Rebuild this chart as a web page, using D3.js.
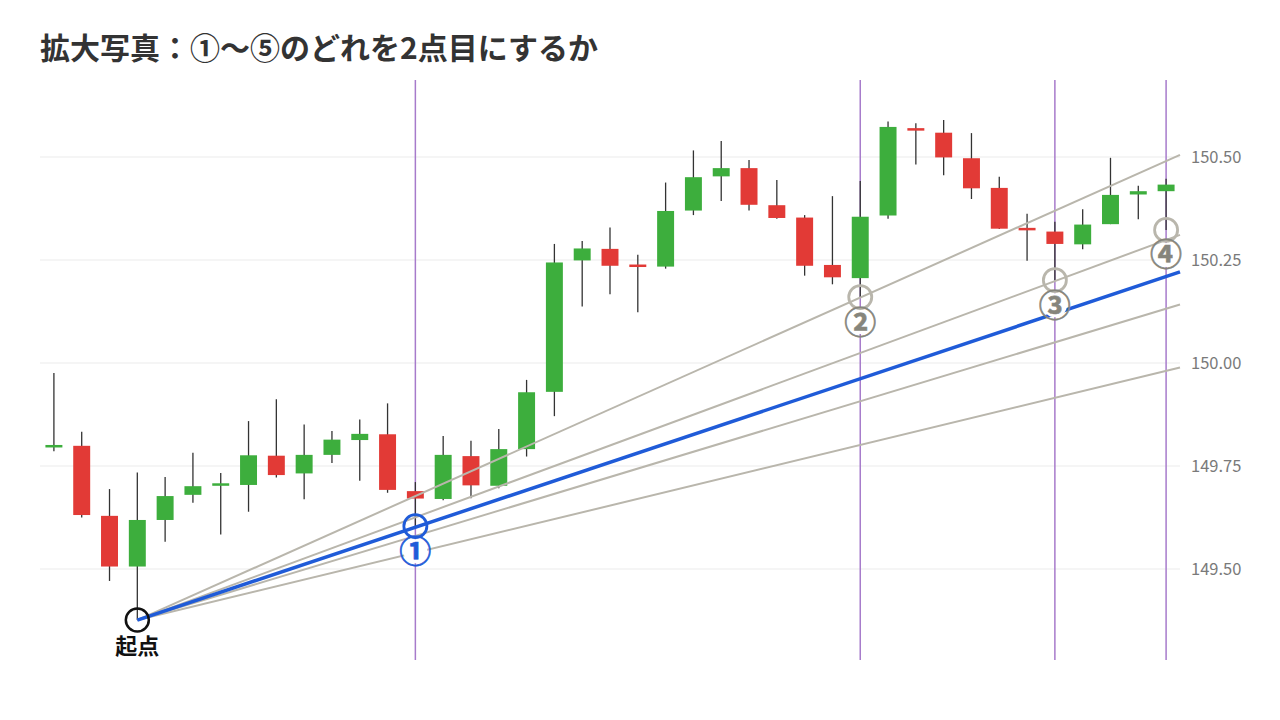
<!DOCTYPE html>
<html>
<head>
<meta charset="utf-8">
<script src="https://cdn.jsdelivr.net/npm/d3@7"></script>
<style>
  html, body { margin: 0; padding: 0; background: #ffffff; }
  svg { display: block; }
</style>
</head>
<body>
<svg id="chart" width="1280" height="720"></svg>
<script>
// ---- data ----
const titleText = "拡大写真：①〜⑤のどれを2点目にするか";
const opens  = [149.795,149.799,149.629,149.506,149.619,149.680,149.703,149.704,149.775,149.732,149.777,149.813,149.827,149.689,149.670,149.774,149.702,149.791,149.930,150.249,150.277,150.236,150.234,150.370,150.453,150.473,150.383,150.353,150.238,150.206,150.358,150.567,150.559,150.497,150.425,150.325,150.319,150.288,150.337,150.409,150.417];
const highs  = [149.976,149.833,149.694,149.734,149.723,149.782,149.733,149.859,149.912,149.851,149.835,149.863,149.902,149.711,149.823,149.811,149.840,149.959,150.289,150.296,150.329,150.263,150.438,150.516,150.539,150.493,150.444,150.359,150.405,150.442,150.586,150.582,150.590,150.558,150.452,150.362,150.343,150.373,150.498,150.430,150.447];
const lows   = [149.786,149.625,149.471,149.376,149.566,149.661,149.584,149.639,149.722,149.669,149.757,149.714,149.685,149.604,149.667,149.672,149.696,149.773,149.871,150.137,150.167,150.123,150.229,150.359,150.393,150.370,150.350,150.212,150.191,150.160,150.350,150.482,150.456,150.398,150.325,150.248,150.201,150.276,150.337,150.349,150.323];
const closes = [149.798,149.631,149.506,149.619,149.677,149.701,149.705,149.776,149.728,149.777,149.814,149.828,149.692,149.671,149.777,149.703,149.791,149.929,150.244,150.278,150.236,150.234,150.369,150.451,150.473,150.384,150.352,150.236,150.208,150.355,150.573,150.563,150.499,150.424,150.326,150.320,150.289,150.336,150.408,150.417,150.433];
const yTicks = [149.50, 149.75, 150.00, 150.25, 150.50];
const verticalIdx = [13, 29, 36, 40];
const originIdx = 3;
const originLabel = "起点";
const fanEndPrices = [150.505, 150.311, 150.142, 149.989];   // gray candidate lines at right edge
const blueEndPrice = 150.221;                                 // chosen (blue) line at right edge
const markerLabels = ["①", "②", "③", "④"];
const markerIdx    = [13, 29, 36, 40];
const markerPrice  = [149.604, 150.160, 150.201, 150.323];

// ---- layout ----
const svg = d3.select("#chart");
const plotL = 40, plotR = 1180, plotT = 80, plotB = 660;
const n = opens.length;
const x = d3.scaleLinear().domain([-0.5, n - 0.5]).range([plotL, plotR]);
const y = d3.scaleLinear().domain([149.5, 150.5]).range([569, 157]);
const step = x(1) - x(0);
const bodyW = step * 0.61;
const green = "#3dae3d", red = "#e23a36";
const fontJP = "'Noto Sans CJK JP', 'Noto Sans', sans-serif";

// title
svg.append("text")
  .attr("x", 40).attr("y", 59)
  .attr("font-family", fontJP).attr("font-weight", 700)
  .attr("font-size", 30).attr("fill", "#333333")
  .text(titleText);

// grid
svg.append("g").selectAll("line").data(yTicks).join("line")
  .attr("x1", plotL).attr("x2", plotR)
  .attr("y1", d => y(d)).attr("y2", d => y(d))
  .attr("stroke", "#ebebeb").attr("stroke-width", 1);

// y axis labels
const axis = svg.append("g").attr("transform", `translate(${plotR},0)`)
  .call(d3.axisRight(y).tickValues(yTicks).tickSize(0).tickPadding(11).tickFormat(d3.format(".2f")));
axis.select(".domain").remove();
axis.selectAll("text").attr("font-family", fontJP).attr("font-size", 16.5).attr("fill", "#7a7a7a");

// vertical purple lines
svg.append("g").selectAll("line").data(verticalIdx).join("line")
  .attr("x1", d => x(d)).attr("x2", d => x(d))
  .attr("y1", plotT).attr("y2", plotB)
  .attr("stroke", "#a77bcb").attr("stroke-width", 1.5);

// candles
const idx = d3.range(n);
const cg = svg.append("g");
cg.selectAll("line.wick").data(idx).join("line").attr("class", "wick")
  .attr("x1", i => x(i)).attr("x2", i => x(i))
  .attr("y1", i => y(highs[i])).attr("y2", i => y(lows[i]))
  .attr("stroke", "#333333").attr("stroke-width", 1.3);
cg.selectAll("rect").data(idx).join("rect")
  .attr("x", i => x(i) - bodyW / 2)
  .attr("width", bodyW)
  .attr("y", i => Math.min(y(opens[i]), y(closes[i])) - (Math.abs(y(opens[i]) - y(closes[i])) < 2.5 ? 1.25 : 0))
  .attr("height", i => Math.max(2.5, Math.abs(y(opens[i]) - y(closes[i]))))
  .attr("fill", i => closes[i] >= opens[i] ? green : red);

// fan lines
const ox = x(originIdx), oy = y(lows[originIdx]);
svg.append("g").selectAll("line").data(fanEndPrices).join("line")
  .attr("x1", ox).attr("y1", oy)
  .attr("x2", x(n - 0.5)).attr("y2", d => y(d))
  .attr("stroke", "#b9b6ac").attr("stroke-width", 2);
svg.append("line")
  .attr("x1", ox).attr("y1", oy)
  .attr("x2", x(n - 0.5)).attr("y2", y(blueEndPrice))
  .attr("stroke", "#1f5bd8").attr("stroke-width", 3.5);

// origin marker
svg.append("circle").attr("cx", ox).attr("cy", oy).attr("r", 11.5)
  .attr("fill", "none").attr("stroke", "#111111").attr("stroke-width", 2.5);
svg.append("text").attr("x", ox).attr("y", oy + 34)
  .attr("text-anchor", "middle").attr("font-family", fontJP)
  .attr("font-weight", 700).attr("font-size", 22).attr("fill", "#111111")
  .text(originLabel);

// candidate markers
const mg = svg.append("g");
markerLabels.forEach((lab, k) => {
  const cx = x(markerIdx[k]), cy = y(markerPrice[k]);
  const col = k === 0 ? "#1f5bd8" : "#b9b6ac";
  const tcol = k === 0 ? "#1f5bd8" : "#86857c";
  mg.append("circle").attr("cx", cx).attr("cy", cy).attr("r", 11.5)
    .attr("fill", "none").attr("stroke", col).attr("stroke-width", 2.8);
  mg.append("circle").attr("cx", cx).attr("cy", cy + 25).attr("r", 12)
    .attr("fill", "#ffffff");
  mg.append("text").attr("x", cx).attr("y", cy + 25)
    .attr("dy", "0.36em")
    .attr("text-anchor", "middle").attr("font-family", fontJP)
    .attr("font-weight", 700).attr("font-size", 32).attr("fill", tcol)
    .attr("stroke", tcol).attr("stroke-width", 0.6)
    .text(lab);
});
</script>
</body>
</html>
